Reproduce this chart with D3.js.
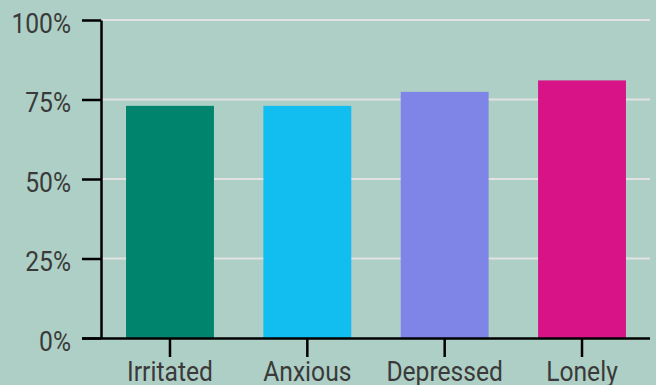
<!DOCTYPE html>
<html>
<head>
<meta charset="utf-8">
<script src="https://cdn.jsdelivr.net/npm/d3@7"></script>
<style>
  html, body { margin: 0; padding: 0; background: #aecfc5; }
  svg { display: block; }
  .tick text { font-family: Roboto, sans-serif; font-size: 28px; fill: #3a3a3a; }
</style>
</head>
<body>
<div id="chart"></div>
<script>
// feelings reported, share of respondents
const categories = ["Irritated", "Anxious", "Depressed", "Lonely"];
const values = [0.73, 0.73, 0.774, 0.81];
const colors = ["#00846e", "#12bdf0", "#7f85e6", "#d81287"];
const yTicks = [0, 0.25, 0.5, 0.75, 1];

const width = 656, height = 385;
const margin = { top: 20, right: 6, bottom: 47, left: 101 };
const squeeze = 0.88; // fake a condensed face

const svg = d3.select("#chart")
    .append("svg")
    .attr("width", width)
    .attr("height", height);

const x = d3.scaleBand()
    .domain(categories)
    .range([margin.left + 1, width - margin.right])
    .paddingInner(0.36)
    .paddingOuter(0.175);

const y = d3.scaleLinear()
    .domain([0, 1])
    .range([height - margin.bottom, margin.top]);

// gridlines
svg.append("g")
    .selectAll("line")
    .data(yTicks.filter(d => d > 0))
    .join("line")
    .attr("x1", margin.left + 1)
    .attr("x2", width - margin.right)
    .attr("y1", d => y(d))
    .attr("y2", d => y(d))
    .attr("stroke", "#e2e2e2")
    .attr("stroke-width", 2);

// bars
svg.append("g")
    .selectAll("rect")
    .data(values)
    .join("rect")
    .attr("x", (d, i) => x(categories[i]))
    .attr("y", d => y(d))
    .attr("width", x.bandwidth())
    .attr("height", d => y(0) - y(d))
    .attr("fill", (d, i) => colors[i]);

// y axis
const yAxis = svg.append("g")
    .attr("transform", "translate(" + margin.left + ",0)")
    .call(d3.axisLeft(y).tickValues(yTicks).tickFormat(d3.format(".0%")).tickSize(19).tickSizeOuter(0));

yAxis.selectAll(".tick text")
    .attr("x", 0)
    .attr("dy", "0.44em")
    .attr("transform", "translate(-30,0) scale(" + squeeze + ",1)");

// x axis
const xAxis = svg.append("g")
    .attr("transform", "translate(0," + (height - margin.bottom) + ")")
    .call(d3.axisBottom(x).tickSize(19).tickSizeOuter(0).tickPadding(4));

xAxis.selectAll(".tick text")
    .attr("transform", "scale(" + squeeze + ",1)");

xAxis.select(".domain").attr("d", "M82,0.5H" + (width - margin.right));

[yAxis, xAxis].forEach(g => {
    g.selectAll(".domain, .tick line").attr("stroke", "#000").attr("stroke-width", 2.5);
});
</script>
</body>
</html>
